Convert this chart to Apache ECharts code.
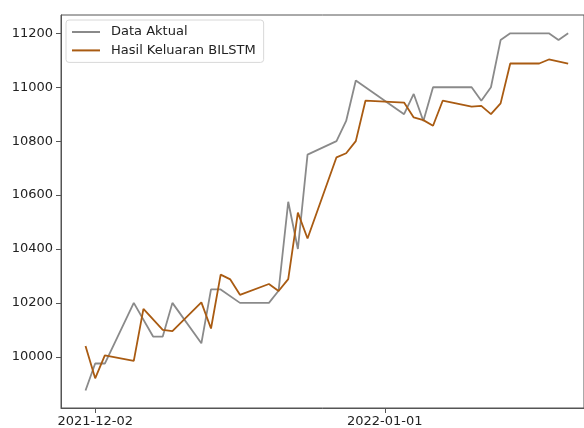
<!DOCTYPE html>
<html>
<head>
<meta charset="utf-8">
<script src="https://cdn.jsdelivr.net/npm/echarts@6/dist/echarts.min.js"></script>
<style>
html,body{margin:0;padding:0;background:#fff;}
#c{width:584px;height:428px;}
</style>
</head>
<body>
<div id="c"></div>
<script>
// Data Aktual (date, value) — vertices
const actualDates = ['2021-12-01','2021-12-02','2021-12-03','2021-12-06','2021-12-08','2021-12-09','2021-12-10','2021-12-13','2021-12-14','2021-12-15','2021-12-17','2021-12-20','2021-12-21','2021-12-22','2021-12-23','2021-12-24','2021-12-27','2021-12-28','2021-12-29','2022-01-03','2022-01-04','2022-01-05','2022-01-06','2022-01-10','2022-01-11','2022-01-12','2022-01-13','2022-01-14','2022-01-18','2022-01-19','2022-01-20'];
const actualValues = [9875,9975,9975,10200,10075,10075,10200,10050,10250,10250,10200,10200,10245,10575,10400,10750,10800,10875,11025,10900,10975,10875,11000,11000,10950,11000,11175,11200,11200,11175,11200];

// Hasil Keluaran BILSTM
const predDates = ['2021-12-01','2021-12-02','2021-12-03','2021-12-06','2021-12-07','2021-12-09','2021-12-10','2021-12-13','2021-12-14','2021-12-15','2021-12-16','2021-12-17','2021-12-20','2021-12-21','2021-12-22','2021-12-23','2021-12-24','2021-12-27','2021-12-28','2021-12-29','2021-12-30','2022-01-03','2022-01-04','2022-01-05','2022-01-06','2022-01-07','2022-01-10','2022-01-11','2022-01-12','2022-01-13','2022-01-14','2022-01-17','2022-01-18','2022-01-20'];
const predValues = [10040,9920,10005,9985,10178,10100,10095,10202,10105,10305,10287,10230,10270,10244,10288,10535,10439,10740,10755,10800,10950,10943,10888,10878,10857,10950,10928,10931,10900,10940,11088,11088,11103,11088];

const xTickLabels = ['2021-12-02','2022-01-01'];
const yTickValues = [10000,10200,10400,10600,10800,11000,11200];

const seriesNames = ['Data Aktual','Hasil Keluaran BILSTM'];

const DAY = 86400000;
function ts(s){ const p = s.split('-').map(Number); return Date.UTC(p[0], p[1]-1, p[2]); }
function fmt(v){ const d = new Date(v); const m = d.getUTCMonth()+1, dd = d.getUTCDate(); return d.getUTCFullYear()+'-'+(m<10?'0':'')+m+'-'+(dd<10?'0':'')+dd; }

const base = ts('2021-12-02');
const xMin = base - 3.54*DAY;
const xMax = base + 50.64*DAY;

const chart = echarts.init(document.getElementById('c'));
const font = 'DejaVu Sans';
chart.setOption({
  animation:false,
  backgroundColor:'#fff',
  textStyle:{fontFamily:font},
  grid:{left:61, top:15, right:-2, bottom:20, show:true, borderColor:'#555', borderWidth:1, containLabel:false},
  legend:{
    data:seriesNames,
    orient:'vertical',
    left:66, top:20,
    padding:[5,8,5,6],
    itemGap:4.4,
    icon:'rect', itemWidth:28, itemHeight:2,
    backgroundColor:'rgba(255,255,255,0.85)',
    borderColor:'#d8d8d8', borderWidth:1, borderRadius:3,
    textStyle:{fontFamily:font, fontSize:13, color:'#222', lineHeight:14, padding:[0,0,0,6]}
  },
  xAxis:{
    type:'value', min:xMin, max:xMax, scale:true,
    splitLine:{show:false},
    axisLine:{show:true, onZero:false, lineStyle:{color:'#555', width:1}},
    axisTick:{show:true, inside:false, length:5, lineStyle:{color:'#555'}, customValues:xTickLabels.map(ts)},
    axisLabel:{show:true, margin:7, fontFamily:font, fontSize:13, color:'#222', customValues:xTickLabels.map(ts), formatter:function(v){return fmt(v);}}
  },
  yAxis:{
    type:'value', min:9810, max:11268, scale:true,
    splitLine:{show:false},
    axisLine:{show:true, onZero:false, lineStyle:{color:'#555', width:1}},
    axisTick:{show:true, inside:false, length:5, lineStyle:{color:'#555'}, customValues:yTickValues},
    axisLabel:{show:true, margin:8, fontFamily:font, fontSize:13, color:'#222', customValues:yTickValues, formatter:function(v){return String(v);}}
  },
  series:[
    {name:seriesNames[0], type:'line', showSymbol:false, symbol:'none', color:'#8a8a8a',
     lineStyle:{color:'#8a8a8a', width:1.8},
     data:actualDates.map((d,i)=>[ts(d), actualValues[i]])},
    {name:seriesNames[1], type:'line', showSymbol:false, symbol:'none', color:'#a95b12',
     lineStyle:{color:'#a95b12', width:1.8},
     data:predDates.map((d,i)=>[ts(d), predValues[i]])}
  ]
});
</script>
</body>
</html>
